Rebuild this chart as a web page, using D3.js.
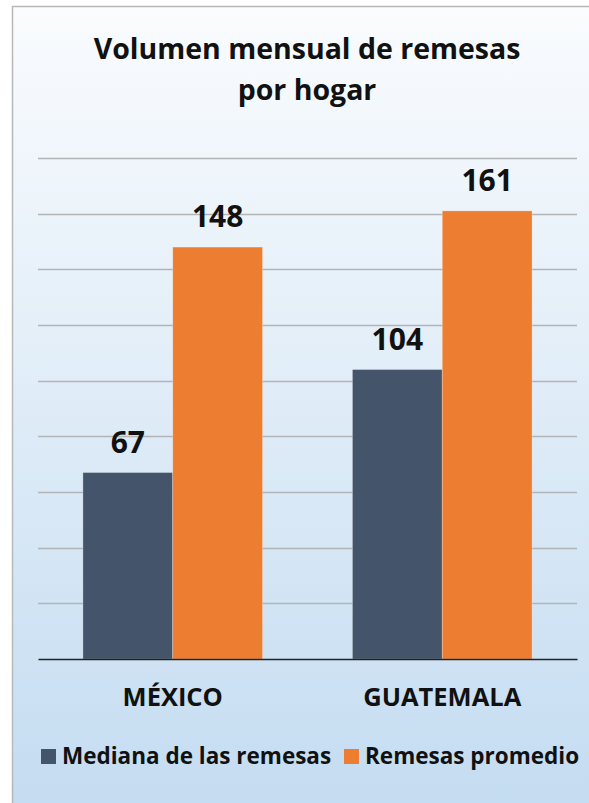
<!DOCTYPE html>
<html><head><meta charset="utf-8">
<script src="https://cdn.jsdelivr.net/npm/d3@7"></script>
<style>html,body{margin:0;padding:0;background:#fff;}svg{display:block;}</style>
</head><body>
<script>
const titleLines = ["Volumen mensual de remesas", "por hogar"];
const categories = ["MÉXICO", "GUATEMALA"];
const seriesNames = ["Mediana de las remesas", "Remesas promedio"];
const medianValues = [67, 104];
const averageValues = [148, 161];
const seriesColors = ["#44546a", "#ed7d31"];
const yTicks = [0, 20, 40, 60, 80, 100, 120, 140, 160, 180];

const W = 589, H = 803;
const font = "'Open Sans', Lato, sans-serif";
const svg = d3.select("body").append("svg").attr("width", W).attr("height", H);
const defs = svg.append("defs");
const grad = defs.append("linearGradient").attr("id", "bg").attr("x1", 0).attr("y1", 0).attr("x2", 0).attr("y2", 1);
grad.append("stop").attr("offset", "0%").attr("stop-color", "#fafcfe");
grad.append("stop").attr("offset", "100%").attr("stop-color", "#c4dcf1");
svg.append("rect").attr("x", 0).attr("y", 0).attr("width", W).attr("height", H).attr("fill", "#fff");
svg.append("rect").attr("x", 12.5).attr("y", 6.5).attr("width", W).attr("height", H)
  .attr("fill", "url(#bg)").attr("stroke", "#b8b8b8").attr("stroke-width", 1.5);

const plot = {left: 38, right: 577, top: 158, bottom: 659};
const x0 = d3.scaleBand().domain(categories).range([plot.left, plot.right]).paddingInner(0).paddingOuter(0);
const x1 = d3.scaleBand().domain(seriesNames).range([0, x0.bandwidth()]).paddingInner(0).paddingOuter(0.5);
const y = d3.scaleLinear().domain([0, 180]).range([plot.bottom, plot.top]);

// gridlines
svg.append("g").selectAll("line").data(yTicks.slice(1)).join("line")
  .attr("x1", plot.left).attr("x2", plot.right)
  .attr("y1", d => Math.round(y(d)) + 0.5).attr("y2", d => Math.round(y(d)) + 0.5)
  .attr("stroke", "#b2b4b6").attr("stroke-width", 1.5);

const rows = categories.map((c, i) => ({cat: c, vals: [medianValues[i], averageValues[i]]}));
const groups = svg.append("g").selectAll("g").data(rows).join("g")
  .attr("transform", d => `translate(${x0(d.cat)},0)`);
groups.selectAll("rect").data(d => d.vals.map((v, j) => ({s: seriesNames[j], v, j}))).join("rect")
  .attr("x", d => x1(d.s)).attr("width", x1.bandwidth())
  .attr("y", d => y(d.v)).attr("height", d => y(0) - y(d.v))
  .attr("fill", d => seriesColors[d.j]).attr("stroke", "rgba(255,255,255,0.35)").attr("stroke-width", 0.8);
groups.selectAll("text").data(d => d.vals.map((v, j) => ({s: seriesNames[j], v, j}))).join("text")
  .attr("x", d => x1(d.s) + x1.bandwidth() / 2).attr("y", d => y(d.v) - 20)
  .attr("text-anchor", "middle").attr("font-family", font).attr("font-weight", "bold")
  .attr("font-size", 30).attr("fill", "#111").text(d => d.v);

// x axis
const xAxis = svg.append("g").attr("transform", `translate(0,${plot.bottom})`)
  .call(d3.axisBottom(x0).tickSize(0).tickPadding(29));
xAxis.select(".domain").attr("stroke", "#222").attr("stroke-width", 1.3);
xAxis.selectAll("text").attr("font-family", font).attr("font-weight", "bold")
  .attr("font-size", 25.5).attr("fill", "#111");

// title
svg.append("text").attr("x", 307).attr("text-anchor", "middle")
  .attr("font-family", font).attr("font-weight", "bold").attr("font-size", 28.5).attr("fill", "#111")
  .selectAll("tspan").data(titleLines).join("tspan")
  .attr("x", 307).attr("y", (d, i) => 59 + i * 41).text(d => d);

// legend
const legend = svg.append("g");
const legItems = [{x: 41, t: seriesNames[0], c: seriesColors[0]}, {x: 344, t: seriesNames[1], c: seriesColors[1]}];
legItems.forEach((it, i) => {
  legend.append("rect").attr("x", it.x).attr("y", 749).attr("width", 15).attr("height", 15).attr("fill", it.c);
  legend.append("text").attr("x", it.x + 21).attr("y", 764).attr("font-family", font).attr("font-weight", "bold")
    .attr("font-size", 22.5).attr("fill", "#111").text(it.t);
});
</script>
</body></html>
